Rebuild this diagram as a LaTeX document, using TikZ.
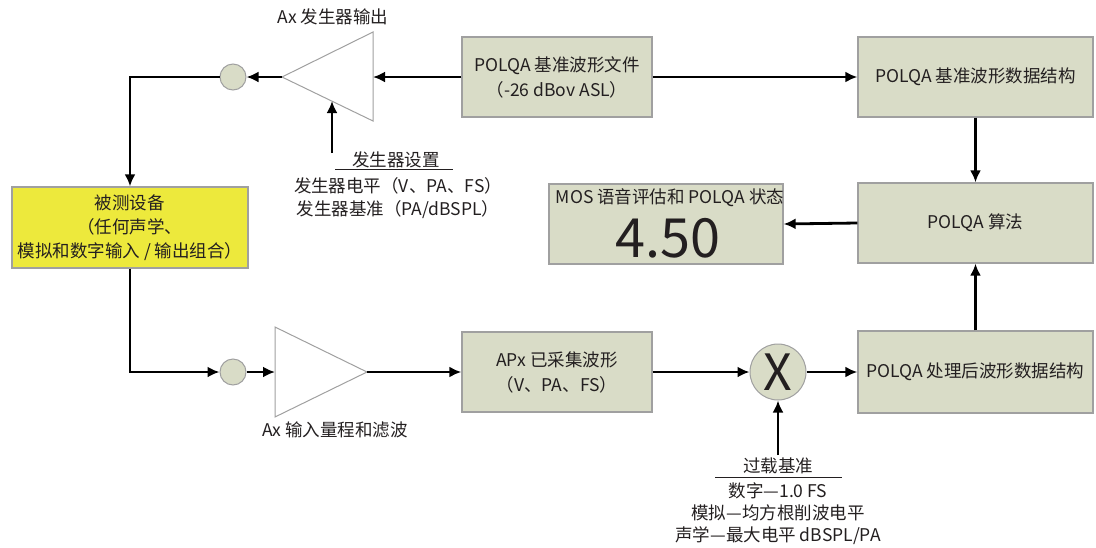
\documentclass[tikz,border=0pt]{standalone}
\usepackage{fontspec}
\setmainfont{Noto Sans CJK SC}
\usetikzlibrary{arrows.meta,shapes.geometric}
\definecolor{boxfill}{HTML}{D9DCC7}
\definecolor{boxline}{HTML}{A0A0A0}
\definecolor{dutfill}{HTML}{EDE93C}
\definecolor{txt}{HTML}{231F20}
\tikzset{
  blk/.style={draw=boxline, fill=boxfill, line width=1.3pt, align=center, inner sep=0pt,
              font=\fontsize{17.5}{25}\selectfont, text=txt},
  dot/.style={circle, draw=boxline, fill=boxfill, line width=1pt, minimum size=26pt, inner sep=0pt},
  conn/.style={line width=2.8pt, -{Latex[length=12pt,width=11pt]}},
  lbl/.style={font=\fontsize{17.5}{24}\selectfont, text=txt, align=center, inner sep=0pt},
  tri/.style={draw=boxline, fill=white, line width=1pt},
}
\begin{document}
\begin{tikzpicture}[x=1pt,y=-1pt]
\useasboundingbox (0,0) rectangle (1096,547);
% boxes
\node[blk, minimum width=190pt, minimum height=80pt] (b1) at (557,77) {POLQA 基准波形文件\\（-26 dBov ASL）};
\node[blk, minimum width=235pt, minimum height=80pt] (b2) at (975.5,77) {POLQA 基准波形数据结构};
\node[blk, minimum width=235pt, minimum height=80pt] (alg) at (975.5,223) {POLQA 算法};
\node[blk, minimum width=234pt, minimum height=80pt] (mos) at (666,224) {};
\node[lbl] (mostitle) at (670,198) {MOS 语音评估和 POLQA 状态};
\node[lbl, font=\fontsize{54}{54}\selectfont] (mosval) at (668,238) {4.50};
\node[blk, minimum width=235pt, minimum height=82pt] (proc) at (975.5,372) {POLQA 处理后波形数据结构};
\node[blk, minimum width=190pt, minimum height=80pt] (apx) at (557,372) {APx 已采集波形\\（V、PA、FS）};
\node[blk, fill=dutfill, minimum width=236pt, minimum height=81pt, font=\fontsize{17.5}{24}\selectfont] (dut) at (130,227.5)
  {被测设备\\（任何声学、\\模拟和数字输入 / 输出组合）};
% circles
\node[dot] (c1) at (233,77) {};
\node[dot] (c2) at (233,372) {};
\node[dot, minimum size=56pt, font=\fontsize{50}{50}\selectfont, text=txt] (mx) at (778,372) {X};
% triangles
\draw[tri] (282,77) -- (373,32) -- (373,121) -- cycle;
\coordinate (t1apex) at (282,77);
\coordinate (t1base) at (373,77);
\coordinate (t1edge) at (332,101);
\draw[tri] (367,372) -- (275,327) -- (275,417) -- cycle;
\coordinate (t2apex) at (367,372);
\coordinate (t2base) at (275,372);
% labels
\node[lbl] (genout) at (333,17) {Ax 发生器输出};
\node[lbl] (inrange) at (335,430) {Ax 输入量程和滤波};
\node[lbl] (gset) at (396,160) {发生器设置};
\draw[line width=1pt, txt] (335,169) -- (453,169);
\node[lbl] (gset2) at (398,186) {发生器电平（V、PA、FS）};
\node[lbl] (gset3) at (398,210) {发生器基准（PA/dBSPL）};
\coordinate (gsetarr) at (332,153);
\node[lbl] (ovl) at (778,466) {过载基准};
\draw[line width=1pt, txt] (715,477) -- (842,477);
\node[lbl] (ovl2) at (778,491) {数字—1.0 FS};
\node[lbl] (ovl3) at (778,513) {模拟—均方根削波电平};
\node[lbl] (ovl4) at (778,536) {声学—最大电平 dBSPL/PA};
\coordinate (ovlarr) at (778,455);
% connectors
\draw[conn] (b1.west) -- (t1base);
\draw[conn] (t1apex) -- (c1.east);
\draw[conn] (c1.west) -| (dut.north);
\draw[conn] (gsetarr) -- (t1edge);
\draw[conn] (b1.east) -- (b2.west);
\draw[conn] (b2.south) -- (alg.north);
\draw[conn] (alg.west) -- (mos.east);
\draw[conn] (proc.north) -- (alg.south);
\draw[conn] (dut.south) |- (c2.west);
\draw[conn] (c2.east) -- (t2base);
\draw[conn] (t2apex) -- (apx.west);
\draw[conn] (apx.east) -- (mx.west);
\draw[conn] (mx.east) -- (proc.west);
\draw[conn] (ovlarr) -- (mx.south);
\end{tikzpicture}
\end{document}
